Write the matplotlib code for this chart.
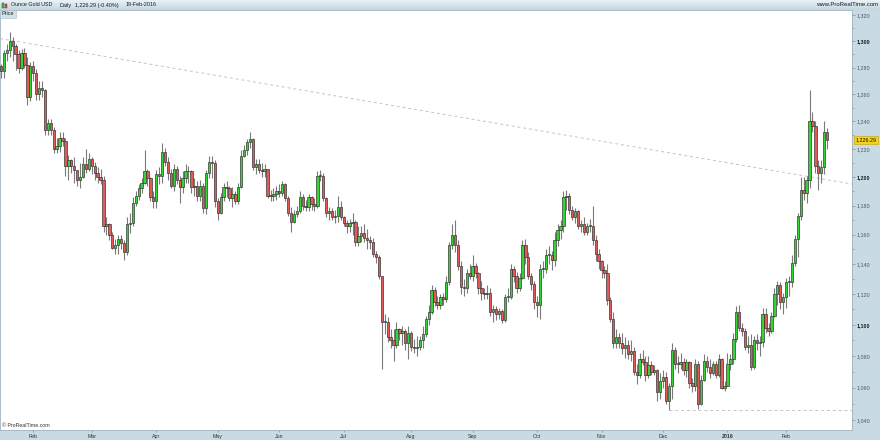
import numpy as np
import pandas as pd
import matplotlib
matplotlib.use('Agg')
import matplotlib.pyplot as plt
from matplotlib.patches import Rectangle
from matplotlib.ticker import FixedLocator, NullFormatter

plt.rcParams['font.family'] = ['Liberation Sans', 'DejaVu Sans']

# daily candles, Ounce Gold USD, 16-Jan-2015 .. 19-Feb-2016 (open = previous close)
first_open = 1281
closes = [
    # Jan 2015
    1277, 1291, 1293, 1300, 1296, 1290, 1280, 1291, 1282, 1258, 1281,
    # Feb
    1276, 1260, 1265, 1263, 1234, 1239, 1234, 1220, 1222, 1228,
    1226, 1208, 1212, 1208, 1205, 1198, 1200, 1209, 1206, 1213,
    # Mar
    1208, 1203, 1200, 1198, 1166, 1167, 1160, 1151, 1153, 1157,
    1154, 1148, 1167, 1168, 1182, 1187, 1192, 1196, 1204, 1199, 1186, 1183,
    # Apr
    1202, 1201, 1218, 1211, 1203, 1194, 1206, 1198, 1193, 1199,
    1204, 1204, 1193, 1194, 1187, 1194, 1178, 1203, 1211, 1210, 1183,
    # May
    1175, 1186, 1193, 1192, 1185, 1188, 1183, 1193, 1215, 1219,
    1225, 1227, 1207, 1209, 1205, 1204, 1206, 1187, 1187, 1188, 1190,
    # Jun
    1189, 1195, 1185, 1175, 1169, 1174, 1176, 1186, 1180, 1179,
    1186, 1181, 1180, 1201, 1201, 1185, 1175, 1176, 1172, 1173, 1179, 1172,
    # Jul
    1168, 1166, 1168, 1169, 1155, 1159, 1161, 1158, 1156, 1155,
    1147, 1145, 1132, 1102, 1102, 1092, 1090, 1087, 1097, 1095, 1096, 1088, 1095,
    # Aug
    1086, 1085, 1086, 1090, 1094, 1104, 1108, 1123, 1115, 1113,
    1118, 1117, 1128, 1153, 1160, 1153, 1139, 1125, 1124, 1134, 1132,
    # Sep
    1139, 1134, 1124, 1121, 1120, 1121, 1108, 1110, 1107, 1109,
    1103, 1118, 1118, 1137, 1132, 1124, 1131, 1153, 1145, 1132, 1127, 1115,
    # Oct
    1113, 1137, 1137, 1146, 1146, 1143, 1156, 1163, 1166, 1186,
    1187, 1177, 1172, 1176, 1166, 1167, 1162, 1166, 1166, 1156, 1147, 1142,
    # Nov
    1136, 1134, 1116, 1104, 1088, 1092, 1088, 1085, 1087, 1081,
    1083, 1070, 1068, 1078, 1076, 1068, 1074, 1070, 1071, 1057, 1064,
    # Dec
    1067, 1052, 1061, 1084, 1075, 1075, 1076, 1071, 1076, 1063,
    1061, 1075, 1050, 1065, 1077, 1073, 1069, 1075, 1068, 1078, 1060, 1061,
    # Jan 2016
    1075, 1078, 1091, 1108, 1098, 1096, 1086, 1087, 1073, 1090,
    1088, 1089, 1107, 1098, 1096, 1106, 1120, 1126, 1115, 1118,
    # Feb 2016
    1128, 1128, 1141, 1157, 1173, 1191, 1189, 1198, 1240, 1237,
    1208, 1203, 1207, 1232, 1226.29,
]
highs = [
    1283, 1293, 1298, 1307, 1303, 1298, 1293, 1294, 1295, 1288, 1284,
    1285, 1279, 1270, 1270, 1264, 1242, 1242, 1236, 1228, 1232,
    1232, 1228, 1216, 1213, 1214, 1205, 1210, 1214, 1220, 1217,
    1214, 1211, 1207, 1206, 1201, 1172, 1168, 1162, 1157, 1160,
    1160, 1156, 1172, 1175, 1186, 1190, 1195, 1199, 1219, 1206, 1200, 1190,
    1205, 1207, 1224, 1221, 1214, 1206, 1209, 1208, 1201, 1204,
    1209, 1208, 1205, 1199, 1197, 1198, 1196, 1205, 1215, 1215, 1212,
    1185, 1189, 1196, 1197, 1194, 1193, 1190, 1196, 1219, 1223,
    1227, 1232, 1228, 1213, 1213, 1210, 1209, 1206, 1191, 1192, 1194,
    1195, 1197, 1196, 1187, 1179, 1177, 1180, 1190, 1188, 1184,
    1188, 1187, 1185, 1204, 1205, 1203, 1186, 1179, 1178, 1177, 1187, 1183,
    1173, 1170, 1171, 1175, 1170, 1166, 1166, 1167, 1164, 1159,
    1158, 1149, 1146, 1132, 1107, 1105, 1097, 1097, 1102, 1098, 1099, 1097, 1099,
    1096, 1091, 1093, 1093, 1099, 1106, 1113, 1126, 1125, 1119,
    1120, 1121, 1132, 1155, 1167, 1170, 1156, 1142, 1130, 1137, 1140,
    1146, 1141, 1135, 1129, 1124, 1126, 1124, 1113, 1112, 1111,
    1110, 1120, 1124, 1140, 1139, 1135, 1134, 1156, 1157, 1148, 1134, 1129,
    1119, 1140, 1142, 1150, 1152, 1149, 1162, 1167, 1170, 1190,
    1191, 1189, 1180, 1178, 1177, 1170, 1172, 1168, 1171, 1180, 1160, 1150,
    1143, 1139, 1140, 1118, 1108, 1097, 1095, 1095, 1092, 1090,
    1090, 1086, 1075, 1082, 1084, 1080, 1080, 1077, 1074, 1072, 1069,
    1071, 1070, 1063, 1088, 1086, 1080, 1082, 1079, 1078, 1077,
    1066, 1078, 1077, 1068, 1081, 1080, 1078, 1077, 1077, 1081, 1079, 1064,
    1082, 1081, 1095, 1112, 1113, 1101, 1098, 1093, 1094, 1093,
    1094, 1093, 1111, 1111, 1101, 1108, 1124, 1129, 1128, 1121,
    1131, 1132, 1146, 1160, 1175, 1200, 1200, 1201, 1263, 1247,
    1240, 1212, 1212, 1240, 1235,
]
lows = [
    1272, 1272, 1285, 1288, 1285, 1278, 1276, 1278, 1280, 1252, 1255,
    1270, 1256, 1256, 1258, 1230, 1230, 1230, 1217, 1217, 1218,
    1222, 1201, 1198, 1203, 1196, 1194, 1192, 1199, 1203, 1204,
    1202, 1198, 1196, 1195, 1162, 1160, 1156, 1150, 1147, 1147,
    1150, 1143, 1146, 1161, 1166, 1180, 1184, 1189, 1195, 1194, 1183, 1178,
    1178, 1195, 1196, 1208, 1198, 1192, 1190, 1195, 1182, 1189,
    1196, 1196, 1189, 1187, 1183, 1183, 1175, 1174, 1199, 1199, 1179,
    1170, 1174, 1183, 1186, 1183, 1179, 1181, 1181, 1192, 1214,
    1216, 1221, 1205, 1202, 1203, 1200, 1200, 1185, 1183, 1183, 1184,
    1186, 1187, 1183, 1173, 1162, 1168, 1172, 1175, 1177, 1176,
    1176, 1177, 1176, 1178, 1197, 1183, 1172, 1170, 1170, 1168, 1169, 1170,
    1166, 1161, 1162, 1160, 1152, 1152, 1155, 1155, 1150, 1150,
    1145, 1141, 1130, 1072, 1094, 1089, 1085, 1077, 1085, 1090, 1087, 1084, 1078,
    1083, 1082, 1080, 1084, 1085, 1092, 1100, 1107, 1112, 1110,
    1110, 1113, 1115, 1126, 1150, 1148, 1136, 1120, 1119, 1121, 1130,
    1129, 1131, 1120, 1116, 1117, 1117, 1106, 1102, 1103, 1104,
    1101, 1102, 1115, 1117, 1128, 1121, 1122, 1130, 1140, 1130, 1123, 1110,
    1105, 1104, 1131, 1134, 1140, 1136, 1139, 1152, 1157, 1162,
    1177, 1174, 1170, 1168, 1164, 1162, 1160, 1160, 1162, 1153, 1142, 1137,
    1131, 1131, 1113, 1102, 1085, 1085, 1085, 1081, 1079, 1078,
    1077, 1068, 1062, 1066, 1074, 1064, 1066, 1068, 1068, 1052, 1053,
    1060, 1050, 1046, 1053, 1072, 1069, 1072, 1068, 1067, 1060,
    1057, 1058, 1047, 1049, 1064, 1070, 1066, 1068, 1066, 1067, 1059, 1058,
    1061, 1071, 1075, 1089, 1096, 1093, 1084, 1082, 1071, 1072,
    1084, 1080, 1086, 1095, 1093, 1095, 1105, 1113, 1110, 1107,
    1111, 1119, 1125, 1139, 1145, 1170, 1184, 1182, 1192, 1232,
    1203, 1191, 1196, 1202, 1220,
]

price_ticks = list(range(1040, 1321, 20))
last_price = 1226.29
trend_start, trend_end = 1302, 1195.1   # dotted resistance line, left and right edge

holidays = ['2015-04-03', '2015-12-25', '2016-01-01']
dates = pd.bdate_range('2015-01-16', '2016-02-19')
dates = dates[~dates.isin(pd.to_datetime(holidays))]

opens = [first_open] + closes[:-1]
x = np.arange(len(closes))
o = np.array(opens, dtype=float)
c = np.array(closes, dtype=float)

panel = '#c8dae4'
fig = plt.figure(figsize=(8.8, 4.4), dpi=100, facecolor=panel)
ax = fig.add_axes([0, 10 / 440, 852 / 880, 420 / 440])
ax.set_facecolor('white')
ax.set_yscale('log')
xmin, xmax = -0.34, 290.5

# trend lines behind the candles
ax.plot([xmin, xmax], [trend_start, trend_end], ls=(0, (3, 3)), color='#c4c4c4', lw=0.7, zorder=1)
i_low = int(np.argmin(lows))
ax.hlines(min(lows), i_low, xmax, linestyles=(0, (3, 3)), color='#c4c4c4', lw=0.7, zorder=1)

up = c >= o
ax.vlines(x, lows, highs, color='#7a7a7a', linewidth=0.8, zorder=2)
ax.bar(x, np.maximum(np.abs(c - o), 0.6), bottom=np.minimum(o, c), width=0.8,
       color=np.where(up, '#35d335', '#e05a5a'), edgecolor='#2b2b2b', linewidth=0.45, zorder=3)

ax.set_xlim(xmin, xmax)
ax.set_ylim(1033.9, 1324.1)

# price axis on the right
ax.yaxis.tick_right()
ax.yaxis.set_major_locator(FixedLocator(price_ticks))
ax.yaxis.set_minor_locator(FixedLocator([p + 10 for p in price_ticks[:-1]]))
ax.yaxis.set_minor_formatter(NullFormatter())
ax.set_yticks(price_ticks, [f'{p:,}' for p in price_ticks])
ax.tick_params(axis='y', which='major', direction='out', length=2, width=0.5,
               color='#7b8c97', pad=1.2, labelsize=3.9, labelcolor='#5d4d6b')
ax.tick_params(axis='y', which='minor', direction='out', length=1.2, width=0.5, color='#7b8c97')
for lab, p in zip(ax.get_yticklabels(), price_ticks):
    if p % 100 == 0:
        lab.set_fontweight('bold')
        lab.set_color('#1e1e1e')

# month axis
starts = [i for i in range(1, len(dates)) if dates[i].month != dates[i - 1].month]
mlabels = ['2016' if dates[i].month == 1 else dates[i].strftime('%b') for i in starts]
ax.set_xticks(starts, mlabels)
ax.tick_params(axis='x', direction='out', length=1.5, width=0.5, color='#7b8c97',
               pad=1.5, labelsize=3.8, labelcolor='#333333')
for lab in ax.get_xticklabels():
    if lab.get_text() == '2016':
        lab.set_fontweight('bold')

for s in ax.spines.values():
    s.set_color('#9fb2be')
    s.set_linewidth(0.6)

ax.text(1.004, last_price, f'{last_price:,.2f}', transform=ax.get_yaxis_transform(),
        ha='left', va='center', fontsize=3.9, color='#111111', zorder=10,
        bbox=dict(boxstyle='square,pad=0.25', fc='#f6d21a', ec='#caa000', lw=0.4))

ax.text(0.002, 0.997, 'Price', transform=ax.transAxes, ha='left', va='top', fontsize=4,
        color='#222222', bbox=dict(boxstyle='square,pad=0.3', fc='#d3e2ea', ec='#a8bdca', lw=0.4))
ax.text(0.002, 0.004, '\u00a9 ProRealTime.com', transform=ax.transAxes, ha='left', va='bottom',
        fontsize=3.8, color='#333333')

# header bar
hax = fig.add_axes([0, 430 / 440, 1, 10 / 440])
grad = np.linspace(0, 1, 20).reshape(-1, 1)
hax.imshow(grad, aspect='auto', cmap=matplotlib.colors.LinearSegmentedColormap.from_list(
    'hdr', ['#eaf2f7', '#c3d6e1']), extent=[0, 1, 0, 1])
hax.set_axis_off()

for px, w, h, col in [(2, 2, 5, '#35d335'), (5, 2, 4, '#e05a5a')]:
    fig.add_artist(Rectangle((px / 880, 432 / 440), w / 880, h / 440, transform=fig.transFigure,
                             fc=col, ec='#2b2b2b', lw=0.3))
ty = 435 / 440
for px, txt in [(11, 'Ounce Gold USD'), (59, 'Daily'), (75, '1,226.29 (-0.40%)'), (126, '19-Feb-2016')]:
    fig.text(px / 880, ty, txt, ha='left', va='center', fontsize=3.9, color='#1a1a1a')
fig.text(878 / 880, ty, 'www.ProRealTime.com', ha='right', va='center', fontsize=4.3, color='#1a1a1a')

fig.savefig('out.png', dpi=100, facecolor=fig.get_facecolor())
